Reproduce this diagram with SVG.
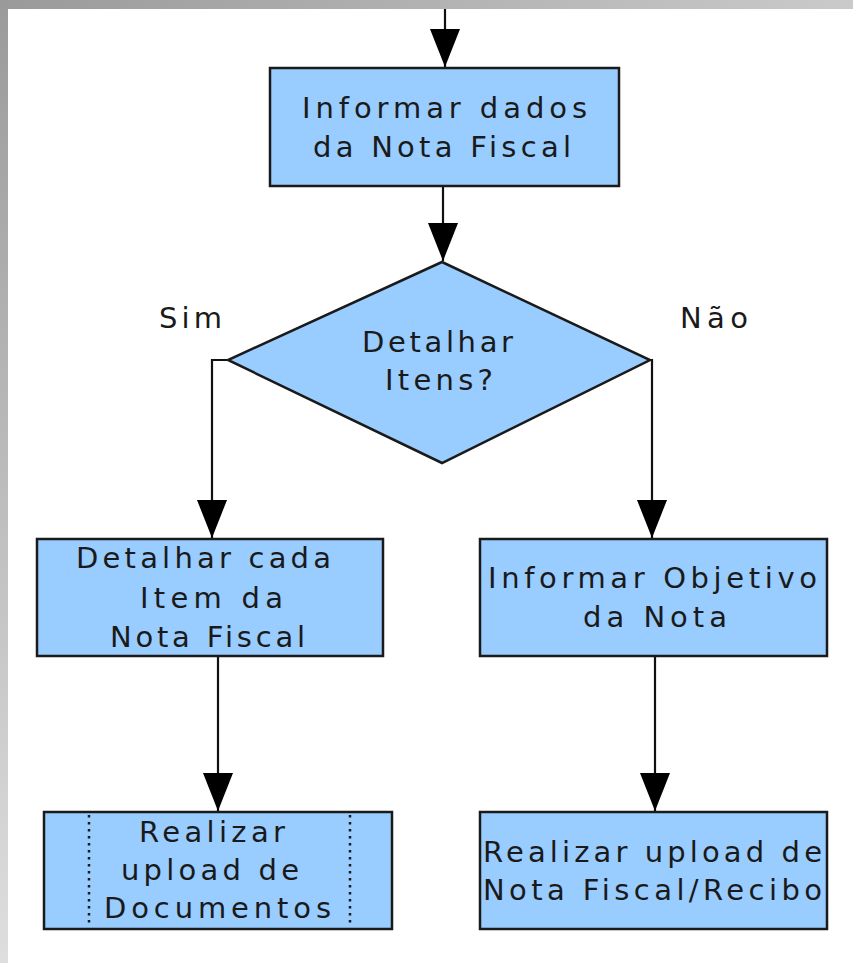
<svg xmlns="http://www.w3.org/2000/svg" width="853" height="963" viewBox="0 0 853 963">
  <defs>
    <linearGradient id="gTop" x1="0" y1="0" x2="1" y2="0">
      <stop offset="0" stop-color="#9a9a9a"/>
      <stop offset="1" stop-color="#cacaca"/>
    </linearGradient>
    <linearGradient id="gLeft" x1="0" y1="0" x2="0" y2="1">
      <stop offset="0" stop-color="#9a9a9a"/>
      <stop offset="1" stop-color="#dedede"/>
    </linearGradient>
    <marker id="arrow" markerUnits="userSpaceOnUse" viewBox="0 0 38 30" refX="38" refY="15" markerWidth="38" markerHeight="30" orient="auto">
      <path d="M0,0 L38,15 L0,30 z" fill="#000"/>
    </marker>
  </defs>
  <style>
    .node { fill: #99ccff; stroke: #1a1a1a; stroke-width: 2.5; }
    .conn { fill: none; stroke: #111; stroke-width: 2.2; marker-end: url(#arrow); }
    .sep { stroke: #1a1a1a; stroke-width: 2.5; stroke-dasharray: 2.5 4.5; }
    text { font-family: "DejaVu Sans", Verdana, sans-serif; font-size: 29px; fill: #1a1a1a; }
  </style>
  <rect x="0" y="0" width="853" height="963" fill="#ffffff"/>
  <rect x="0" y="0" width="853" height="9" fill="url(#gTop)"/>
  <rect x="0" y="0" width="8" height="963" fill="url(#gLeft)"/>

  <g id="connectors">
    <path class="conn" d="M445,9 V67"/>
    <path class="conn" d="M443,186 V261"/>
    <path class="conn" d="M228,360 H212 V538"/>
    <path class="conn" d="M650,360 H652 V538"/>
    <path class="conn" d="M218,656 V811"/>
    <path class="conn" d="M655,656 V811"/>
  </g>

  <g id="informar-dados">
    <rect class="node" x="270" y="68" width="349" height="118"/>
    <text x="302" y="118" textLength="285" lengthAdjust="spacing">Informar dados</text>
    <text x="313" y="157" textLength="258" lengthAdjust="spacing">da Nota Fiscal</text>
  </g>

  <g id="detalhar-itens">
    <polygon class="node" points="442,262 650,360 442,463 228,360"/>
    <text x="362" y="352" textLength="151" lengthAdjust="spacing">Detalhar</text>
    <text x="385" y="390" textLength="108" lengthAdjust="spacing">Itens?</text>
  </g>

  <g id="label-sim">
    <text x="159" y="328" textLength="63" lengthAdjust="spacing">Sim</text>
  </g>
  <g id="label-nao">
    <text x="680" y="328" textLength="68" lengthAdjust="spacing">Não</text>
  </g>

  <g id="detalhar-item">
    <rect class="node" x="37" y="539" width="346" height="117"/>
    <text x="76" y="568" textLength="255" lengthAdjust="spacing">Detalhar cada</text>
    <text x="140" y="608" textLength="143" lengthAdjust="spacing">Item da</text>
    <text x="110" y="647" textLength="195" lengthAdjust="spacing">Nota Fiscal</text>
  </g>

  <g id="informar-objetivo">
    <rect class="node" x="480" y="539" width="347" height="117"/>
    <text x="488" y="588" textLength="329" lengthAdjust="spacing">Informar Objetivo</text>
    <text x="583" y="627" textLength="144" lengthAdjust="spacing">da Nota</text>
  </g>

  <g id="upload-documentos">
    <rect class="node" x="44" y="812" width="348" height="117"/>
    <line class="sep" x1="89" y1="815" x2="89" y2="927"/>
    <line class="sep" x1="350" y1="815" x2="350" y2="927"/>
    <text x="139" y="842" textLength="146" lengthAdjust="spacing">Realizar</text>
    <text x="121" y="880" textLength="178" lengthAdjust="spacing">upload de</text>
    <text x="104" y="918" textLength="227" lengthAdjust="spacing">Documentos</text>
  </g>

  <g id="upload-nota">
    <rect class="node" x="480" y="812" width="347" height="117"/>
    <text x="483" y="862" textLength="339" lengthAdjust="spacing">Realizar upload de</text>
    <text x="483" y="900" textLength="339" lengthAdjust="spacing">Nota Fiscal/Recibo</text>
  </g>
</svg>
